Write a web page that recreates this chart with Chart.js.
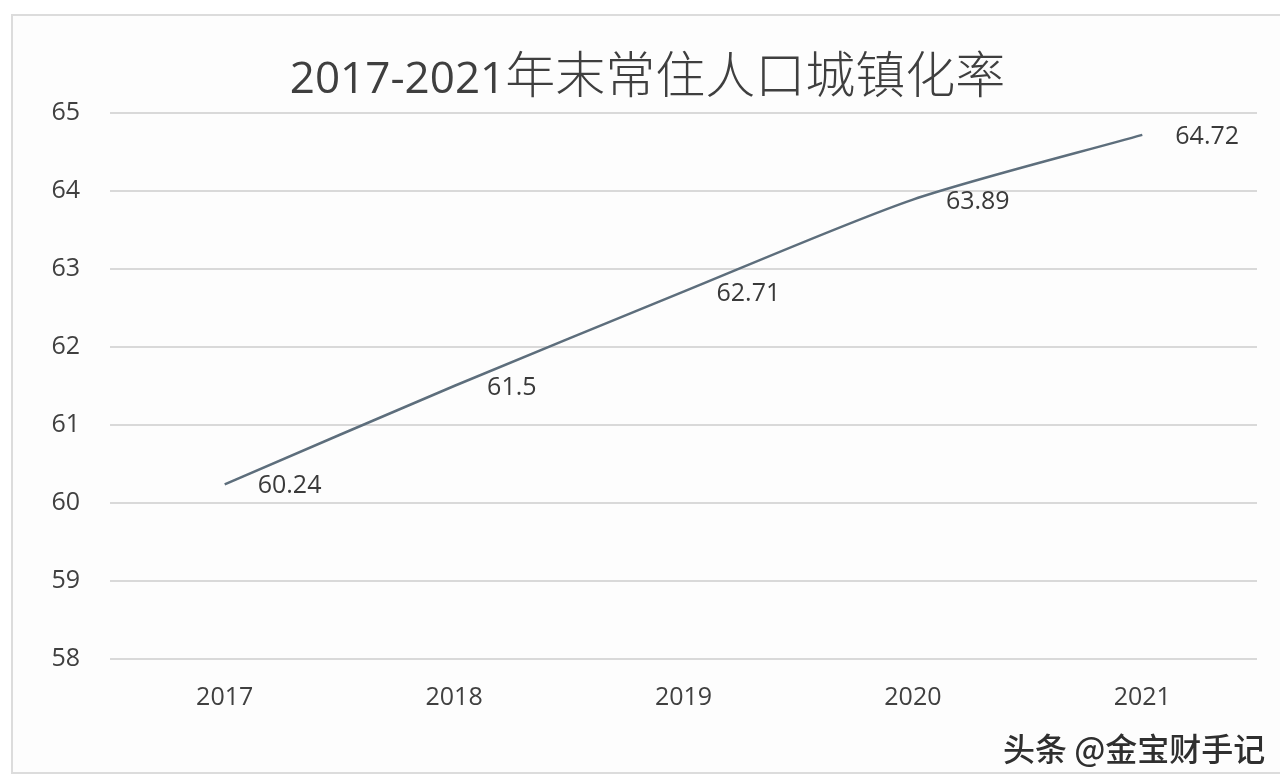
<!DOCTYPE html>
<html>
<head>
<meta charset="utf-8">
<script src="https://cdn.jsdelivr.net/npm/chart.js@4.4.0/dist/chart.umd.min.js"></script>
<style>
  html, body { margin: 0; padding: 0; background: #fff; }
  body { width: 1280px; height: 776px; position: relative; overflow: hidden; }
  #frame {
    position: absolute; left: 11px; top: 14px; width: 1275px; height: 756px;
    border: 2px solid #dcdcdc; background: #fdfdfd;
  }
  #frame canvas { position: absolute; left: 0; top: 0; }
  #title {
    position: absolute; left: 0; top: 20px; width: 1269px; text-align: center;
    color: #3f3f3f; white-space: nowrap; line-height: 70px;
  }
  #title .num { font-family: "Open Sans", sans-serif; font-size: 44px; }
  #title .cjk { font-family: "Noto Sans CJK SC", sans-serif; font-size: 50px; font-weight: 300; letter-spacing: 0; }
  #mark {
    position: absolute; left: 990px; top: 708px; font-family: "Noto Sans CJK SC", sans-serif;
    font-size: 32px; font-weight: 500; color: #2f2f2f; white-space: nowrap;
    text-shadow: 0 0 2px #fff, 0 0 3px #fff;
  }
</style>
</head>
<body>
<div id="frame">
  <canvas id="chart" width="1269" height="754"></canvas>
  <div id="title"><span class="num">2017-2021</span><span class="cjk">年末常住人口城镇化率</span></div>
  <div id="mark">头条 @金宝财手记</div>
</div>
<script>
const years = ['2017', '2018', '2019', '2020', '2021'];
const rates = [60.24, 61.5, 62.71, 63.89, 64.72];
const yMin = 58;
const yMax = 65;

// value labels to the right of each point
const valueLabels = {
  id: 'valueLabels',
  afterDatasetsDraw(chart) {
    const ctx = chart.ctx;
    const meta = chart.getDatasetMeta(0);
    ctx.save();
    ctx.font = '25px "Open Sans", sans-serif';
    ctx.fillStyle = '#3a3a3a';
    ctx.textAlign = 'left';
    ctx.textBaseline = 'middle';
    meta.data.forEach((pt, i) => {
      ctx.fillText(String(rates[i]), pt.x + 33, pt.y + 2);
    });
    ctx.restore();
  }
};

new Chart(document.getElementById('chart'), {
  type: 'line',
  data: {
    labels: years,
    datasets: [{
      data: rates,
      borderColor: '#5d6e7c',
      borderWidth: 2.5,
      pointRadius: 0,
      tension: 0.25,
      fill: false
    }]
  },
  options: {
    responsive: false,
    animation: false,
    layout: { padding: { top: 97, right: 25, bottom: 33, left: 0 } },
    plugins: {
      legend: { display: false },
      tooltip: { enabled: false },
      title: { display: false }
    },
    scales: {
      x: {
        offset: true,
        grid: { display: false, drawTicks: false },
        border: { display: false },
        ticks: {
          padding: 24,
          color: '#404040',
          font: { family: '"Open Sans", sans-serif', size: 25 }
        }
      },
      y: {
        min: yMin,
        max: yMax,
        afterFit(scale) { scale.width = 97; },
        grid: { color: '#d9d9d9', lineWidth: 2, drawTicks: false },
        border: { display: false },
        ticks: {
          stepSize: 1,
          padding: 30,
          color: '#404040',
          font: { family: '"Open Sans", sans-serif', size: 25 }
        }
      }
    }
  },
  plugins: [valueLabels]
});
</script>
</body>
</html>
